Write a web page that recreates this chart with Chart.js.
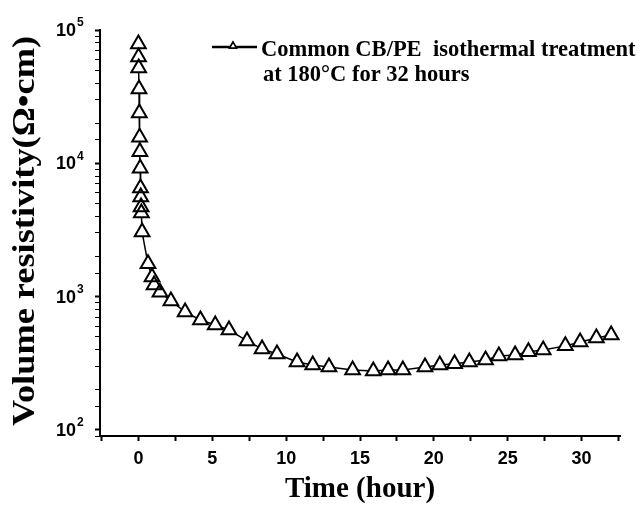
<!DOCTYPE html>
<html>
<head>
<meta charset="utf-8">
<script src="https://cdn.jsdelivr.net/npm/chart.js@4.4.1/dist/chart.umd.min.js"></script>
<style>
  html, body { margin: 0; padding: 0; background: #fff; }
  #wrap { width: 643px; height: 507px; }
</style>
</head>
<body>
<div id="wrap"><canvas id="chart" width="643" height="507"></canvas></div>
<script>
// time of isothermal treatment (hours)
const timeHours = [0, 0.01, 0.02, 0.04, 0.06, 0.08, 0.1, 0.12, 0.14, 0.16, 0.18, 0.2, 0.25,
  0.65, 0.92, 1.06, 1.46, 2.2, 3.16, 4.2, 5.2, 6.13, 7.35, 8.37, 9.38, 10.74, 11.8, 12.9,
  14.5, 15.9, 16.9, 17.9, 19.4, 20.4, 21.4, 22.4, 23.5, 24.4, 25.5, 26.4, 27.4, 28.9,
  29.9, 31.0, 32.0];
// volume resistivity (ohm cm)
const resistivity = [78500, 62700, 51900, 36100, 23800, 15700, 12200, 9200, 6530, 5580, 4700, 4240, 3050,
  1760, 1400, 1220, 1080, 927, 767, 668, 613, 562, 465, 405, 371, 323, 307, 297,
  282, 277, 282, 282, 297, 307, 313, 323, 335, 359, 365, 385, 398, 427,
  457, 490, 515];

const xTickLabels = [0, 5, 10, 15, 20, 25, 30];
const yDecades = [100, 1000, 10000, 100000];
const legendLines = ['Common CB/PE  isothermal treatment', 'at 180°C for 32 hours'];
const xTitle = 'Time (hour)';
const yTitle = 'Volume resistivity(Ω•cm)';

const points = timeHours.map((t, i) => ({ x: t, y: resistivity[i] }));

// y title, 10^n labels and the two-line legend drawn on top
const overlay = {
  id: 'overlay',
  afterDraw(chart) {
    const ctx = chart.ctx;
    const area = chart.chartArea;
    const yScale = chart.scales.y;

    ctx.save();
    ctx.font = 'bold 31px "Liberation Serif"';
    ctx.fillStyle = '#000';
    ctx.textAlign = 'center';
    ctx.textBaseline = 'middle';
    ctx.translate(26, (area.top + area.bottom) / 2 - 2);
    ctx.rotate(-Math.PI / 2);
    const w = ctx.measureText(yTitle).width;
    ctx.scale(390 / w, 1);
    ctx.fillText(yTitle, 0, 0);
    ctx.restore();

    // powers of ten with a raised exponent
    ctx.save();
    ctx.fillStyle = '#000';
    yDecades.forEach(v => {
      const py = yScale.getPixelForValue(v);
      const exp = String(Math.round(Math.log10(v)));
      ctx.font = 'bold 18px "Liberation Sans"';
      ctx.textAlign = 'right';
      ctx.textBaseline = 'middle';
      ctx.fillText('10', 76, py + 1);
      ctx.font = 'bold 12px "Liberation Sans"';
      ctx.textAlign = 'left';
      ctx.fillText(exp, 77, py - 7);
    });
    ctx.restore();

    ctx.save();
    ctx.strokeStyle = '#000';
    ctx.lineWidth = 2.5;
    ctx.beginPath();
    ctx.moveTo(212, 47);
    ctx.lineTo(257, 47);
    ctx.stroke();
    ctx.fillStyle = '#fff';
    ctx.lineWidth = 1.5;
    Chart.helpers.drawPoint(ctx, { pointStyle: 'triangle', radius: 4, rotation: 0, borderWidth: 1.5 }, 233, 46);
    ctx.fill();
    ctx.stroke();
    ctx.fillStyle = '#000';
    ctx.font = 'bold 22.5px "Liberation Serif"';
    ctx.textBaseline = 'alphabetic';
    ctx.fillText(legendLines[0], 261, 56);
    ctx.fillText(legendLines[1], 263, 81);
    ctx.restore();
  }
};

const chart = document.querySelector('#chart').getContext('2d');

new Chart(chart, {
  type: 'scatter',
  data: {
    datasets: [
      {
        label: legendLines.join(' '),
        data: points,
        showLine: false,
        pointStyle: 'triangle',
        pointRadius: 8.5,
        pointBorderWidth: 2,
        pointBorderColor: '#000',
        pointBackgroundColor: 'rgba(0,0,0,0)',
        order: 0
      },
      {
        label: 'line',
        data: points,
        showLine: true,
        borderColor: '#000',
        borderWidth: 1.5,
        pointStyle: 'triangle',
        pointRadius: 8.5,
        pointBorderWidth: 0,
        pointBackgroundColor: '#fff',
        order: 1
      }
    ]
  },
  options: {
    responsive: false,
    animation: false,
    layout: { padding: { top: 30, right: 23, left: 0, bottom: 0 } },
    plugins: { legend: { display: false }, tooltip: { enabled: false } },
    scales: {
      x: {
        type: 'linear',
        min: -2.6,
        max: 32.6,
        afterFit: s => { s.height = 71; },
        border: { color: '#000', width: 2 },
        grid: { drawOnChartArea: false, tickLength: 5, tickColor: '#000', tickWidth: 2 },
        ticks: {
          stepSize: 2.5,
          includeBounds: false,
          autoSkip: false,
          maxRotation: 0,
          padding: 7,
          color: '#000',
          font: { family: '"Liberation Sans"', size: 18, weight: 'bold' },
          callback: v => xTickLabels.includes(v) ? String(v) : ''
        },
        title: {
          display: true,
          text: xTitle,
          color: '#000',
          padding: 0,
          font: { family: '"Liberation Serif"', size: 29, weight: 'bold' }
        }
      },
      y: {
        type: 'logarithmic',
        min: 90,
        max: 100000,
        afterFit: s => { s.width = 100; },
        border: { color: '#000', width: 2 },
        grid: {
          drawOnChartArea: false, tickLength: 5, tickColor: '#000',
          tickWidth: c => (yDecades.includes(c.tick && c.tick.value) ? 2 : 1)
        },
        ticks: {
          autoSkip: false,
          padding: 8,
          callback: () => ''
        }
      }
    }
  },
  plugins: [overlay]
});
</script>
</body>
</html>
